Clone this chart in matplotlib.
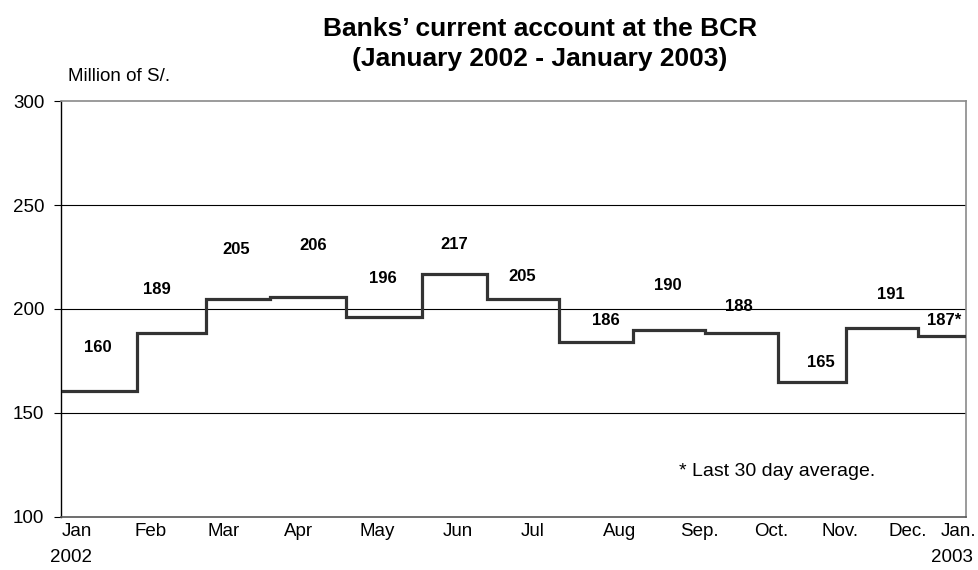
import matplotlib.pyplot as plt

# step levels (million of S/.) and where each level starts, in months from Jan 2002
starts = [0.03, 1.09, 2.08, 3.00, 4.09, 5.19, 6.12, 7.16, 8.22, 9.25, 10.30, 11.28, 12.31]
levels = [160.5, 188.5, 205, 206, 196, 217, 205, 184, 190, 188.5, 165, 191, 187]
end_x = 12.99

labels = ['160', '189', '205', '206', '196', '217', '205', '186', '190', '188', '165', '191', '187*']
label_x = [0.53, 1.38, 2.51, 3.62, 4.63, 5.65, 6.63, 7.83, 8.71, 9.74, 10.92, 11.92, 12.68]
label_y = [181.7, 209.6, 228.8, 230.3, 214.9, 230.8, 215.4, 194.7, 211.5, 201.4, 174.5, 207.2, 194.7]

months = ['Jan', 'Feb', 'Mar', 'Apr', 'May', 'Jun', 'Jul', 'Aug', 'Sep.', 'Oct.', 'Nov.', 'Dec.', 'Jan.']
month_x = [0.23, 1.29, 2.34, 3.41, 4.54, 5.70, 6.77, 8.03, 9.17, 10.20, 11.19, 12.17, 12.89]

plt.rcParams['font.family'] = ['Liberation Sans', 'DejaVu Sans']

fig = plt.figure(figsize=(9.79, 5.70), dpi=100)
ax = fig.add_axes([0.0623, 0.093, 0.9244, 0.7298])

ax.step(starts + [end_x], levels + [levels[-1]], where='post', color='#333333', lw=2.3,
        solid_joinstyle='miter', zorder=3)

for t, x, y in zip(labels, label_x, label_y):
    ax.text(x, y, t, ha='center', va='center', fontsize=12, fontweight='bold', zorder=4)

ax.set_xlim(0, 13)
ax.set_ylim(100, 300)
ax.set_yticks([100, 150, 200, 250, 300])
for g in [150, 200, 250]:
    ax.axhline(g, color='black', lw=0.8, zorder=1)

ax.set_xticks(month_x, months)
ax.tick_params(axis='x', length=0, pad=4, labelsize=13.5)
ax.tick_params(axis='y', length=5, width=0.8, direction='out', pad=7, labelsize=13.5)

ax.spines['left'].set_color('black')
ax.spines['left'].set_linewidth(1.0)
for s in ['top', 'right']:
    ax.spines[s].set_color('#8a8a8a')
    ax.spines[s].set_linewidth(1.2)
ax.spines['bottom'].set_color('#555555')
ax.spines['bottom'].set_linewidth(1.2)

ax.text(8.88, 122, '* Last 30 day average.', ha='left', va='center', fontsize=14)

fig.text(0.5516, 0.949, 'Banks\u2019 current account at the BCR', ha='center', va='center',
         fontsize=19, fontweight='bold')
fig.text(0.5516, 0.896, '(January 2002 - January 2003)', ha='center', va='center',
         fontsize=19, fontweight='bold')
fig.text(0.069, 0.865, 'Million of S/.', ha='left', va='center', fontsize=13.5)
fig.text(0.073, 0.022, '2002', ha='center', va='center', fontsize=13.5)
fig.text(0.9725, 0.022, '2003', ha='center', va='center', fontsize=13.5)

plt.savefig('out.png', dpi=100)
plt.close()
